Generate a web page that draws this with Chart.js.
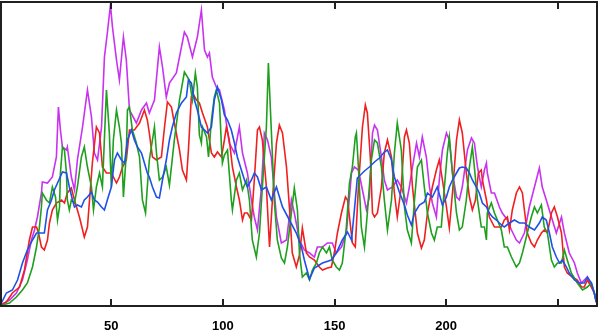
<!DOCTYPE html>
<html>
<head>
<meta charset="utf-8">
<script src="https://cdn.jsdelivr.net/npm/chart.js@4/dist/chart.umd.min.js"></script>
<style>
  html, body { margin: 0; padding: 0; background: #ffffff; }
  #wrap { width: 600px; height: 336px; }
</style>
</head>
<body>
<div id="wrap"><canvas id="chart"></canvas></div>
<script>
// x ticks along the bottom (250 has a tick mark but no label)
const tickValues = [50, 100, 150, 200, 250];
const tickLabels = ['50', '100', '150', '200', ''];

// magenta series
const magentaX = [0.9, 2.2, 4.5, 7.6, 10.3, 12.5, 14.3, 15.7, 17, 18.8, 19.2, 21.5, 23.7, 25.5, 26.4, 27.3, 28.2, 30, 30.4, 32.2, 33.6, 34.9, 37.2, 39.4, 41.2, 42.5, 43.9, 45.7, 47, 48.3, 49.7, 50.6, 52.4, 53.7, 55.5, 56.8, 58.2, 61.3, 63.6, 65.8, 67.1, 69.4, 71.6, 73, 74.7, 76.1, 79.2, 82.8, 84.1, 86.4, 88.6, 90.4, 91.8, 93.1, 94, 95.3, 97.1, 98.5, 100.7, 102.9, 105.2, 107.4, 108.8, 111, 112.8, 114.1, 115.5, 117.3, 118.6, 120, 121.7, 124, 126.2, 128.5, 130.7, 132, 134.3, 136.5, 138.8, 141, 142.3, 144.6, 146.8, 149, 150.8, 153.1, 155.3, 157.6, 158.9, 160.7, 162.5, 164.3, 165.6, 167, 167.9, 169.2, 171, 172.3, 173.7, 175.9, 178.1, 179.9, 182.2, 183.5, 184.9, 186.7, 188, 189.3, 191.1, 192.5, 193.8, 195.6, 196.9, 198.3, 200.1, 201.4, 202.8, 204.6, 205.9, 207.2, 209.5, 211.3, 212.6, 214, 215.7, 217.1, 218, 218.4, 220.2, 221.6, 223.8, 225.1, 227.4, 229.2, 231.4, 232.8, 235, 237.2, 239.5, 241.7, 243, 244.8, 247.1, 249.3, 251.6, 252.9, 255.1, 257.4, 258.7, 260.5, 261.8, 263.2, 265, 266.3, 267.2];
const magentaY = [1, 3, 6, 13, 26, 46, 66, 76, 89, 113, 124, 123, 129, 149, 199, 176, 159, 156, 159, 129, 116, 146, 179, 216, 189, 153, 146, 179, 249, 273, 301, 279, 246, 226, 269, 246, 196, 183, 196, 203, 193, 206, 259, 239, 209, 223, 233, 274, 269, 249, 269, 296, 256, 249, 253, 229, 219, 216, 196, 163, 153, 179, 153, 133, 106, 89, 76, 119, 173, 166, 149, 89, 63, 66, 106, 93, 66, 56, 53, 49, 59, 59, 63, 63, 53, 59, 73, 133, 139, 136, 116, 96, 109, 173, 181, 176, 149, 126, 116, 119, 126, 119, 103, 119, 139, 163, 149, 169, 149, 119, 103, 89, 126, 156, 173, 166, 133, 109, 106, 119, 156, 168, 163, 139, 119, 136, 143, 133, 113, 113, 99, 93, 86, 76, 66, 63, 73, 99, 119, 138, 119, 106, 89, 73, 89, 73, 53, 43, 33, 23, 26, 29, 19, 13, 4];

// red series
const redX = [0.9, 3.1, 5.8, 9, 11.2, 13.4, 14.8, 16.6, 17.5, 18.8, 20.1, 21.5, 22.4, 23.7, 25.5, 27.8, 29.1, 30.4, 32.2, 33.6, 35.8, 38, 39.4, 41.6, 43.4, 44.8, 46.1, 47.9, 50.1, 52.4, 53.7, 55.1, 56.8, 58.2, 60.4, 62.7, 64.9, 66.2, 67.1, 68.5, 70.3, 72.5, 73.9, 75.2, 77, 78.3, 80.6, 81.9, 83.7, 84.6, 85.9, 86.4, 88.2, 89.5, 90.9, 93.1, 94.9, 96.2, 97.6, 99.4, 100.7, 101.6, 102.9, 104.3, 106.1, 107.4, 108.8, 109.7, 111, 112.8, 114.1, 115.5, 116.4, 117.7, 119.5, 120.9, 122.2, 124, 125.3, 126.7, 128.5, 129.8, 131.1, 132.9, 134.3, 135.6, 137.4, 138.8, 141, 143.2, 144.6, 146.8, 148.6, 149.9, 151.3, 153.1, 154.9, 155.8, 156.7, 158, 159.3, 160.7, 162.5, 163.8, 164.7, 166.1, 167, 167.9, 169.2, 171, 172.3, 173.7, 175.5, 176.8, 178.1, 179.9, 181.3, 182.2, 183.5, 184.9, 187.1, 188.9, 190.2, 191.6, 193.8, 195.6, 196.9, 198.3, 200.1, 201.4, 202.8, 204.6, 205.9, 207.2, 209, 210.4, 211.7, 213.1, 214.4, 215.7, 216.2, 218, 219.3, 221.6, 224.7, 226, 227.4, 228.3, 229.6, 231.4, 232.8, 234.1, 235, 236.3, 238.1, 239.5, 240.8, 242.6, 243.9, 245.3, 247.1, 248.4, 249.8, 251.6, 252.9, 254.2, 256.5, 258.7, 260.5, 261.8, 263.2, 265, 266.3, 267.2];
const redY = [1, 4, 13, 19, 36, 66, 79, 79, 73, 59, 56, 66, 83, 96, 103, 106, 103, 113, 118, 106, 89, 69, 79, 143, 179, 173, 139, 133, 133, 123, 129, 139, 146, 176, 176, 183, 196, 186, 173, 149, 146, 149, 179, 204, 199, 183, 156, 136, 126, 156, 209, 213, 206, 203, 193, 179, 153, 149, 154, 149, 166, 179, 166, 139, 119, 106, 86, 93, 93, 86, 126, 176, 179, 166, 119, 59, 106, 163, 181, 173, 139, 99, 53, 39, 51, 78, 53, 49, 46, 39, 36, 38, 39, 53, 73, 93, 109, 106, 89, 63, 59, 119, 179, 201, 193, 146, 93, 89, 93, 119, 153, 166, 149, 113, 89, 119, 169, 176, 163, 119, 73, 58, 66, 93, 119, 136, 146, 126, 99, 78, 113, 166, 186, 173, 133, 109, 96, 106, 133, 136, 126, 106, 89, 79, 79, 86, 89, 76, 96, 113, 119, 113, 96, 73, 63, 59, 66, 73, 76, 73, 93, 99, 89, 73, 39, 33, 29, 26, 19, 19, 26, 19, 13, 4];

// green series
const greenX = [1.3, 4.5, 7.6, 10.3, 12.5, 14.8, 16.6, 17.9, 18.8, 19.2, 21, 22.4, 23.7, 25.1, 26, 26.9, 27.3, 28.2, 29.1, 30, 30.4, 31.3, 32.2, 33.6, 34.9, 36.7, 38, 39.4, 41.2, 42.1, 43.4, 44.8, 46.1, 47.9, 49.2, 50.1, 51, 52.4, 53.7, 54.6, 55.5, 56.8, 57.3, 58.2, 59.5, 61.3, 62.7, 64, 65.4, 66.2, 67.1, 68.5, 69.4, 70.3, 71.6, 73, 74.7, 76.1, 78.3, 80.6, 82.8, 85, 86.4, 87.7, 88.6, 89.5, 90.4, 90.9, 92.7, 93.6, 94.9, 96.2, 97.1, 98.5, 99.4, 99.8, 100.7, 102.1, 103.8, 104.3, 106.1, 107.4, 108.8, 110.6, 111.9, 113.2, 115, 116.4, 117.7, 119.5, 120.4, 121.7, 123.1, 124.4, 126.2, 127.6, 128.9, 130.7, 132, 133.4, 134.3, 135.6, 137.4, 138.8, 140.1, 141.9, 143.2, 144.6, 146.4, 147.7, 149, 150.8, 152.2, 153.5, 155.3, 156.7, 158, 159.3, 159.8, 160.7, 162, 163.4, 164.7, 166.5, 167.9, 169.2, 171, 172.3, 173.7, 175.5, 176.8, 178.1, 179.9, 181.3, 182.6, 184.4, 185.8, 187.1, 188.9, 190.2, 191.6, 193.4, 194.7, 196, 197.8, 199.2, 200.5, 201.4, 202.8, 204.6, 205.9, 207.2, 209, 210.4, 211.7, 212.6, 214, 215.7, 217.1, 218, 218.4, 220.2, 221.6, 222.9, 224.7, 226, 227.4, 229.2, 231.4, 232.8, 234.1, 235, 236.3, 238.1, 239.5, 240.8, 242.6, 243.9, 245.3, 247.1, 248.4, 249.8, 251.6, 252.9, 254.2, 256, 258.7, 261, 263.2, 265, 266.3, 267.2];
const greenY = [1, 3, 9, 16, 23, 39, 59, 79, 99, 113, 106, 103, 119, 109, 86, 99, 133, 159, 156, 133, 106, 96, 106, 103, 119, 149, 159, 139, 119, 96, 119, 133, 119, 216, 173, 119, 166, 196, 179, 163, 109, 153, 196, 199, 176, 163, 149, 106, 93, 119, 146, 166, 179, 153, 126, 129, 139, 121, 166, 206, 234, 226, 206, 233, 219, 171, 163, 179, 169, 149, 186, 209, 216, 203, 159, 143, 151, 156, 106, 96, 126, 133, 116, 126, 106, 66, 49, 73, 119, 179, 243, 176, 103, 66, 48, 43, 59, 93, 118, 96, 53, 29, 33, 26, 36, 43, 53, 59, 53, 59, 46, 39, 36, 43, 79, 123, 139, 169, 173, 139, 79, 59, 93, 146, 166, 163, 139, 106, 76, 106, 153, 183, 156, 99, 76, 63, 106, 139, 146, 119, 93, 73, 66, 79, 79, 119, 153, 169, 133, 93, 76, 79, 106, 139, 159, 139, 106, 79, 79, 66, 93, 103, 93, 86, 76, 59, 59, 49, 39, 43, 53, 61, 73, 89, 99, 93, 101, 79, 73, 46, 39, 43, 43, 56, 46, 33, 23, 16, 19, 23, 13, 4];

// blue series
const blueX = [0.9, 3.1, 5.8, 8.1, 10.3, 12.5, 14.8, 16.6, 18.8, 20.1, 21.5, 23.3, 24.6, 26, 28.2, 30, 31.3, 32.7, 33.6, 34.9, 36.7, 38, 39.4, 41.2, 42.5, 43.9, 45.7, 47, 48.3, 50.1, 51.5, 52.8, 54.6, 56, 57.3, 59.1, 60.4, 61.8, 63.6, 64.9, 66.2, 67.1, 68.5, 70.3, 71.6, 73, 74.7, 76.1, 77.4, 79.2, 81.5, 83.7, 84.6, 85.9, 87.3, 88.6, 90.4, 91.8, 93.1, 94.9, 96.2, 97.6, 99.4, 100.7, 102.1, 103.8, 105.2, 106.5, 108.3, 109.7, 111, 112.8, 114.1, 115.5, 117.3, 119.5, 121.7, 124, 126.7, 129.8, 132.9, 135.2, 136.5, 138.8, 141, 144.6, 148.6, 150.8, 153.5, 155.8, 157.6, 158.9, 160.2, 163.4, 165.6, 167.9, 170.1, 172.3, 173.7, 175.5, 176.8, 179, 181.3, 182.6, 184.4, 185.8, 188, 190.2, 191.6, 193.8, 196, 198.3, 200.1, 201.4, 202.8, 204.6, 205.9, 207.2, 209, 210.4, 211.7, 213.5, 214.8, 216.2, 218, 219.3, 220.7, 222.5, 223.8, 226, 228.3, 230.5, 232.8, 235, 237.2, 239.5, 241.7, 243, 244.8, 246.2, 247.5, 249.3, 250.7, 252, 253.8, 255.1, 257.4, 259.6, 261.8, 263.2, 265, 266.3, 267.2];
const blueY = [3, 13, 16, 26, 43, 56, 66, 73, 73, 73, 96, 106, 116, 123, 134, 133, 119, 106, 99, 101, 99, 106, 109, 114, 106, 104, 99, 96, 106, 119, 146, 153, 146, 143, 166, 176, 166, 159, 153, 143, 133, 129, 119, 109, 108, 126, 146, 166, 179, 193, 203, 209, 226, 223, 206, 196, 179, 176, 173, 179, 206, 219, 206, 191, 186, 176, 163, 149, 136, 126, 119, 126, 133, 129, 116, 119, 106, 119, 99, 86, 73, 59, 46, 27, 38, 43, 46, 53, 66, 74, 66, 96, 128, 135, 139, 144, 148, 154, 156, 146, 129, 114, 101, 91, 81, 93, 101, 104, 113, 109, 119, 101, 109, 119, 126, 133, 138, 139, 138, 133, 126, 119, 113, 103, 99, 93, 89, 86, 83, 79, 83, 86, 83, 83, 79, 76, 83, 89, 86, 73, 59, 49, 43, 46, 39, 33, 26, 23, 23, 29, 23, 13, 4];

function toPoints(xs, ys) {
    return xs.map((x, i) => ({ x: x, y: ys[i] }));
}

// frame round the plot and short inward tick marks at top and bottom
const framePlugin = {
    id: 'frame',
    afterDatasetsDraw(chart) {
        const ctx = chart.ctx;
        const a = chart.chartArea;
        const xs = chart.scales.x;
        ctx.save();
        ctx.strokeStyle = '#202020';
        ctx.lineWidth = 2;
        ctx.strokeRect(a.left, a.top, a.right - a.left, a.bottom - a.top);
        tickValues.forEach(v => {
            const px = Math.round(xs.getPixelForValue(v));
            ctx.beginPath();
            ctx.moveTo(px, a.top);
            ctx.lineTo(px, a.top + 7);
            ctx.moveTo(px, a.bottom);
            ctx.lineTo(px, a.bottom - 7);
            ctx.stroke();
        });
        ctx.restore();
    }
};

const ctx = document.getElementById('chart').getContext('2d');
const lineStyle = { borderWidth: 1.6, pointRadius: 0, tension: 0, fill: false };

new Chart(ctx, {
    type: 'line',
    data: {
        datasets: [
            Object.assign({ label: 'blue', data: toPoints(blueX, blueY), borderColor: '#2050e8' }, lineStyle),
            Object.assign({ label: 'green', data: toPoints(greenX, greenY), borderColor: '#1ea01e' }, lineStyle),
            Object.assign({ label: 'red', data: toPoints(redX, redY), borderColor: '#f02020' }, lineStyle),
            Object.assign({ label: 'magenta', data: toPoints(magentaX, magentaY), borderColor: '#c832f0' }, lineStyle)
        ]
    },
    options: {
        responsive: true,
        maintainAspectRatio: false,
        animation: false,
        layout: { padding: { left: 1, right: 3, top: 2, bottom: 2 } },
        plugins: {
            legend: { display: false },
            tooltip: { enabled: false }
        },
        scales: {
            x: {
                type: 'linear',
                min: 0.7,
                max: 267.5,
                grid: { display: false, drawTicks: false },
                border: { display: false },
                afterBuildTicks: scale => {
                    scale.ticks = tickValues.map(v => ({ value: v }));
                },
                afterFit: scale => {
                    scale.height = 28;
                },
                ticks: {
                    padding: 13,
                    autoSkip: false,
                    maxRotation: 0,
                    color: '#000000',
                    font: { family: 'Liberation Sans', size: 13, weight: 'bold' },
                    callback: value => tickLabels[tickValues.indexOf(value)]
                }
            },
            y: {
                display: false,
                min: 0,
                max: 304
            }
        }
    },
    plugins: [framePlugin]
});
</script>
</body>
</html>
